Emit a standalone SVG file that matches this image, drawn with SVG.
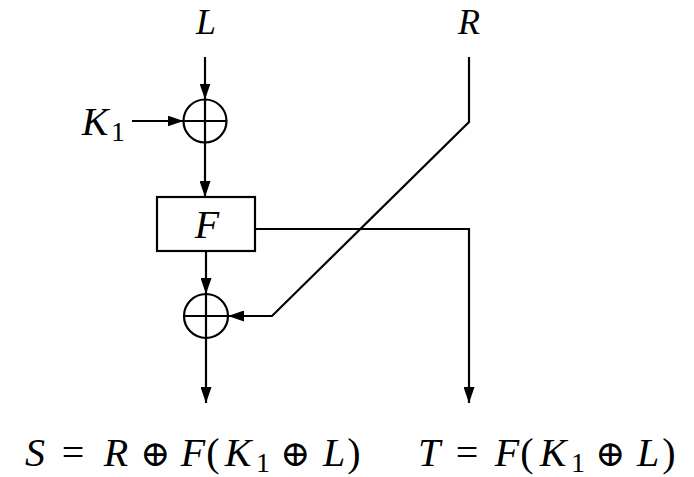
<svg xmlns="http://www.w3.org/2000/svg" width="694" height="477" viewBox="0 0 694 477">
<style>
.ln{fill:none;stroke:#000;stroke-width:2.2}
.t{font-family:"Liberation Serif","DejaVu Serif",serif;font-style:italic;font-size:40px;fill:#000;text-anchor:middle}
.top{font-size:36px}
.n{font-style:normal}
.op{font-family:"DejaVu Serif",serif;font-style:normal;font-size:36px}
.sub{font-style:normal;font-size:28px}
</style>
<defs>
<marker id="ah" viewBox="0 0 16 11" refX="16" refY="5.5" markerWidth="16" markerHeight="11" markerUnits="userSpaceOnUse" orient="auto">
<path d="M0,0 L16,5.5 L0,11 Z" fill="#000"/>
</marker>
</defs>
<rect width="694" height="477" fill="#fff"/>
<g id="labels">
<text class="t top" x="206" y="34">L</text>
<text class="t top" x="469" y="34">R</text>
<text class="t" y="135"><tspan x="95">K</tspan><tspan class="sub" x="118" y="141">1</tspan></text>
</g>
<g id="xor1">
<circle class="ln" cx="205" cy="121" r="21.5"/>
<path class="ln" d="M183.5,121 H226.5 M205,99.5 V142.5"/>
</g>
<g id="F">
<rect class="ln" x="157" y="197" width="98" height="54"/>
<text class="t" x="207" y="238">F</text>
</g>
<g id="xor2">
<circle class="ln" cx="206" cy="316" r="22"/>
<path class="ln" d="M184,316 H228 M206,294 V338"/>
</g>
<g id="connectors">
<path class="ln" d="M205,57 V99.5" marker-end="url(#ah)"/>
<path class="ln" d="M132,121 H183.5" marker-end="url(#ah)"/>
<path class="ln" d="M205,142.5 V197" marker-end="url(#ah)"/>
<path class="ln" d="M206,251 V294" marker-end="url(#ah)"/>
<path class="ln" d="M206,338 V403" marker-end="url(#ah)"/>
<path class="ln" d="M469,57 V122 L272,316 H228" marker-end="url(#ah)"/>
<path class="ln" d="M255,229 H469 V403" marker-end="url(#ah)"/>
</g>
<g id="outputs">
<text class="t" y="466"><tspan x="35">S</tspan><tspan class="n" x="73">=</tspan><tspan x="116">R</tspan><tspan class="op" x="155">⊕</tspan><tspan x="193">F</tspan><tspan class="n" x="213">(</tspan><tspan x="238">K</tspan><tspan class="sub" x="263" y="472">1</tspan><tspan class="op" x="295" y="466">⊕</tspan><tspan x="334">L</tspan><tspan class="n" x="354">)</tspan></text>
<text class="t" y="466"><tspan x="429">T</tspan><tspan class="n" x="467">=</tspan><tspan x="507">F</tspan><tspan class="n" x="527">(</tspan><tspan x="553">K</tspan><tspan class="sub" x="578" y="472">1</tspan><tspan class="op" x="610" y="466">⊕</tspan><tspan x="648">L</tspan><tspan class="n" x="669">)</tspan></text>
</g>
</svg>
